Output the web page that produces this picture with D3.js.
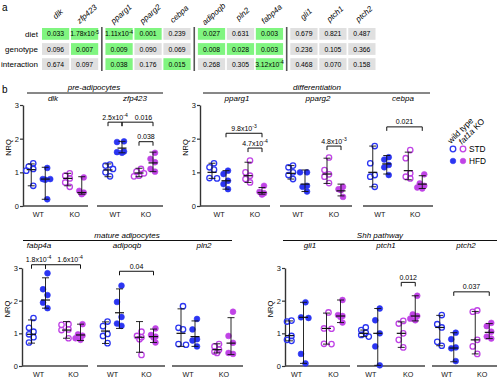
<!DOCTYPE html>
<html><head><meta charset="utf-8">
<script src="https://cdn.jsdelivr.net/npm/d3@7"></script>
<style>body{margin:0;background:#fff} svg{font-family:"Liberation Sans",Arial,sans-serif}</style>
</head><body><svg id="c" width="500" height="380"></svg>
<script>
// ---------- panel a: two-way ANOVA p-values ----------
const tableGenes = ["dlk","zfp423","pparg1","pparg2","cebpa","adipoqb","pln2","fabp4a","gli1","ptch1","ptch2"];
const tableGroups = [0,0,1,1,1,2,2,2,3,3,3];
const tableRows = ["diet","genotype","interaction"];
const pDiet = ["0.033","1.78x10^-5","1.11x10^-4","0.001","0.239","0.027","0.631","0.003","0.679","0.821","0.487"];
const pGenotype = ["0.096","0.007","0.009","0.090","0.069","0.008","0.028","0.003","0.236","0.105","0.366"];
const pInteraction = ["0.674","0.097","0.038","0.176","0.015","0.268","0.305","3.12x10^-4","0.468","0.070","0.158"];

// ---------- panel b: NRQ values; groups = WT STD, WT HFD, KO STD, KO HFD ----------
const groups = ["WT STD","WT HFD","KO STD","KO HFD"];
const genotypes = ["WT","KO"];
const diets = ["STD","HFD"];
const yTicks = [0,1,2,3];

const dlkPts = [[1.27,1.17,1.1,1.05,0.6],[1.13,0.8,0.8,0.78,0.2],[0.97,0.9,0.82,0.7,0.57],[0.85,0.45,0.4,0.37,0.35]];
const dlkBar = [[0.6,1.08,1.25],[0.2,0.8,1.15],[0.6,0.82,0.97],[0.35,0.4,0.87]];
const zfp423Pts = [[1.23,1.2,1.1,1.0,0.88],[1.92,1.9,1.62,1.6,1.58],[1.1,1.02,0.97,0.9,0.88],[1.58,1.4,1.3,1.1,1.02]];
const zfp423Bar = [[0.87,1.07,1.25],[1.58,1.72,1.92],[0.87,0.98,1.12],[1.02,1.28,1.6]];
const pparg1Pts = [[1.27,1.15,1.08,0.83,0.82],[1.05,0.95,0.75,0.65,0.5],[1.35,1.0,0.9,0.8,0.7],[0.6,0.42,0.38,0.36,0.34]];
const pparg1Bar = [[0.82,1.0,1.27],[0.5,0.75,1.05],[0.7,0.9,1.3],[0.35,0.4,0.55]];
const pparg2Pts = [[1.2,1.15,1.0,0.92,0.8],[1.0,1.0,0.6,0.57,0.43],[1.44,1.07,0.94,0.87,0.68],[0.57,0.5,0.5,0.47,0.27]];
const pparg2Bar = [[0.8,0.97,1.2],[0.43,0.65,1.07],[0.67,0.95,1.42],[0.3,0.45,0.65]];
const cebpaPts = [[1.78,1.27,0.92,0.87,0.57],[1.45,1.38,1.22,1.15,0.92],[1.66,1.42,0.97,0.87,0.82],[0.94,0.67,0.6,0.55,0.52]];
const cebpaBar = [[0.57,1.0,1.78],[0.95,1.25,1.5],[0.78,1.05,1.6],[0.52,0.65,0.9]];
const fabp4aPts = [[1.47,1.17,1.05,0.97,0.88,0.72],[2.84,2.35,2.17,1.94,1.77],[1.28,1.26,1.12,1.1,0.85],[1.28,0.97,0.93,0.85,0.8]];
const fabp4aBar = [[0.7,0.97,1.41],[1.77,2.02,2.7],[0.85,1.1,1.36],[0.78,0.95,1.28]];
const adipoqbPts = [[1.36,1.22,0.98,0.92,0.7],[2.46,1.96,1.5,1.3,1.23],[1.05,0.92,0.88,0.82,0.34],[1.15,0.95,0.9,0.87,0.72]];
const adipoqbBar = [[0.69,1.07,1.35],[1.15,1.63,2.36],[0.42,0.88,1.36],[0.72,0.9,1.13]];
const pln2Pts = [[1.83,1.17,1.12,0.67,0.65],[1.44,1.12,0.82,0.78,0.6],[0.67,0.6,0.5,0.44,0.4],[1.66,0.92,0.71,0.4,0.37]];
const pln2Bar = [[0.6,1.0,1.75],[0.6,0.9,1.38],[0.4,0.5,0.68],[0.35,0.7,1.48]];
const gli1Pts = [[1.39,1.36,0.92,0.8,0.77],[1.95,1.49,1.47,0.37,0.08],[1.64,1.15,1.14,0.68,0.67],[2.02,1.56,1.53,1.5,1.33]];
const gli1Bar = [[0.77,0.93,1.38],[0.08,1.49,1.95],[0.67,1.15,1.62],[1.33,1.53,2.02]];
const ptch1Pts = [[1.18,1.1,1.02,0.95,0.9],[1.76,1.4,1.0,0.6,0.02],[1.38,1.3,1.0,0.8,0.57],[2.15,1.58,1.53,1.45,1.4]];
const ptch1Bar = [[0.9,1.0,1.1],[0.02,1.0,1.76],[0.57,1.0,1.35],[1.38,1.53,2.15]];
const ptch2Pts = [[1.56,1.28,1.18,0.74,0.62],[1.02,0.82,0.57,0.54,0.15],[1.7,1.66,0.8,0.6,0.37],[1.32,1.22,1.05,0.9,0.84]];
const ptch2Bar = [[0.62,1.18,1.55],[0.13,0.55,1.02],[0.37,0.8,1.67],[0.84,1.03,1.3]];

// significance brackets: gene, from group, to group, level (NRQ), label
const brackets = [
  ["zfp423",0,1,2.49,"2.5x10^-4"],["zfp423",1,3,2.49,"0.016"],["zfp423",2,3,1.91,"0.038"],
  ["pparg1",1,3,2.16,"9.8x10^-3"],["pparg1",2,3,1.72,"4.7x10^-4"],
  ["pparg2",2,3,1.78,"4.8x10^-3"],["cebpa",1,3,2.35,"0.021"],
  ["fabp4a",0,1,3.1,"1.8x10^-4"],["fabp4a",1,3,3.1,"1.6x10^-4"],
  ["adipoqb",1,3,2.9,"0.04"],["ptch1",2,3,2.56,"0.012"],["ptch2",1,3,2.27,"0.037"]
];

// ---------- layout & style ----------
const blue = "#2b35f2", mag = "#c043e6", green = "#80f580", grey = "#e0e0e0", ink = "#111";
const panels = [
 {gene:"dlk",    pts:dlkPts,    bar:dlkBar,    row:0, band:[20,93],   line:[23,88],  axis:true, lx:53},
 {gene:"zfp423", pts:zfp423Pts, bar:zfp423Bar, row:0, band:[99.5,161.5], line:[97,163], lx:135},
 {gene:"pparg1", pts:pparg1Pts, bar:pparg1Bar, row:0, band:[201,273], line:[200,270], axis:true, lx:237},
 {gene:"pparg2", pts:pparg2Pts, bar:pparg2Bar, row:0, band:[280,352], line:[280,352], lx:318},
 {gene:"cebpa",  pts:cebpaPts,  bar:cebpaBar,  row:0, band:[362,433], line:[363,433], lx:403},
 {gene:"fabp4a", pts:fabp4aPts, bar:fabp4aBar, row:1, band:[21,91],   line:[22,88],  axis:true, lx:39},
 {gene:"adipoqb",pts:adipoqbPts,bar:adipoqbBar,row:1, band:[95.5,163.5], line:[97,165], lx:127},
 {gene:"pln2",   pts:pln2Pts,   bar:pln2Bar,   row:1, band:[170,242], line:[172,243], lx:204},
 {gene:"gli1",   pts:gli1Pts,   bar:gli1Bar,   row:1, band:[278,352], line:[285,350], axis:true, lx:310},
 {gene:"ptch1",  pts:ptch1Pts,  bar:ptch1Bar,  row:1, band:[352,427], line:[357,425], lx:386},
 {gene:"ptch2",  pts:ptch2Pts,  bar:ptch2Bar,  row:1, band:[429,500], line:[432,497], lx:466}
];
const headers = [
 {text:"pre-adipocytes", row:0, x0:27, x1:163, tx:94},
 {text:"differentiation", row:0, x0:203, x1:430, tx:317},
 {text:"mature adipocytes", row:1, x0:23, x1:232, tx:127},
 {text:"Shh pathway", row:1, x0:283, x1:497, tx:380}
];
const rowY = [d3.scaleLinear().domain([0,3]).range([206,105]), d3.scaleLinear().domain([0,3]).range([366,268])];
const headerLineY = [93, 240.5], geneLabelY = [100.5, 248], xLabelY = [217, 377];
const labelShift = {"zfp423|0.016": 6, "fabp4a|1.6x10^-4": 7};

const svg = d3.select("#c");

function supText(sel, s, size) {
  const m = s.match(/^(.*)\^(.*)$/);
  if (!m) { sel.text(s); return; }
  sel.append("tspan").text(m[1]);
  sel.append("tspan").attr("font-size", size*0.72).attr("dy", -size*0.42).text(m[2]);
}
const pNum = s => { const m = s.match(/^(.*)x10\^(.*)$/); return m ? +m[1]*Math.pow(10,+m[2]) : +s; };

// ---------- panel a ----------
svg.append("text").attr("x",2).attr("y",11).attr("font-size",10).text("a");
const colX = d3.scaleBand().domain(tableGenes).range([42,359]).paddingInner(0.06);
const gap = 5.5;
const cx = i => colX(tableGenes[i]) + tableGroups[i]*gap;
const rowB = d3.scaleBand().domain(tableRows).range([28,70]).paddingInner(0.22);
const tableVals = [pDiet, pGenotype, pInteraction];
tableRows.forEach((r, ri) => {
  svg.append("text").attr("x",38).attr("y",rowB(r)+rowB.bandwidth()/2+2.8)
    .attr("text-anchor","end").attr("font-size",8).text(r);
  tableVals[ri].forEach((v, i) => {
    svg.append("rect").attr("x",cx(i)).attr("y",rowB(r)).attr("width",colX.bandwidth()).attr("height",rowB.bandwidth())
      .attr("fill", pNum(v) < 0.05 ? green : grey);
    const t = svg.append("text").attr("x",cx(i)+colX.bandwidth()/2).attr("y",rowB(r)+rowB.bandwidth()/2+2.5)
      .attr("text-anchor","middle").attr("font-size",6.8);
    supText(t, v, 6.8);
  });
});
tableGenes.forEach((g, i) => {
  const x = cx(i) + colX.bandwidth()/2 + 4;
  svg.append("text").attr("transform",`translate(${x},16) rotate(-42)`).attr("text-anchor","middle")
    .attr("font-size",8).attr("font-style","italic").text(g);
});
[1,4,7].forEach(i => {
  const x = (cx(i)+colX.bandwidth()+cx(i+1))/2;
  svg.append("line").attr("x1",x).attr("x2",x).attr("y1",27).attr("y2",71).attr("stroke","#555").attr("stroke-width",1.6);
});

// ---------- panel b ----------
svg.append("text").attr("x",2).attr("y",92.5).attr("font-size",10).text("b");
headers.forEach(h => {
  svg.append("line").attr("x1",h.x0).attr("x2",h.x1).attr("y1",headerLineY[h.row]).attr("y2",headerLineY[h.row]).attr("stroke",ink).attr("stroke-width",1);
  svg.append("text").attr("x",h.tx).attr("y",headerLineY[h.row]-3).attr("text-anchor","middle")
    .attr("font-size",8).attr("font-style","italic").text(h.text);
});

const panelScales = {};
panels.forEach(p => {
  const y = rowY[p.row];
  const outer = d3.scaleBand().domain(genotypes).range(p.band);
  const inner = d3.scalePoint().domain(diets).range([-7,7]);
  const gx = gi => outer(genotypes[Math.floor(gi/2)]) + outer.bandwidth()/2 + inner(diets[gi%2]);
  panelScales[p.gene] = {gx, y};
  const g = svg.append("g");
  if (p.axis) {
    const ax = g.append("g").attr("transform",`translate(${p.line[0]},0)`)
      .call(d3.axisLeft(y).tickValues(yTicks).tickFormat(d3.format("d")).tickSize(3).tickSizeOuter(0));
    ax.select(".domain").attr("stroke","#333").attr("stroke-width",1.4);
    ax.selectAll(".tick line").attr("stroke","#333").attr("stroke-width",1.2);
    ax.selectAll(".tick text").attr("font-size",7.5).attr("font-family",'"Liberation Sans",Arial,sans-serif').attr("fill",ink).attr("x",-4);
    g.append("text").attr("transform",`translate(${p.line[0]-12},${(y(0)+y(3))/2 - 8}) rotate(-90)`)
      .attr("text-anchor","middle").attr("font-size",7.5).text("NRQ");
  }
  g.append("line").attr("x1",p.line[0]).attr("x2",p.line[1]).attr("y1",y(0)).attr("y2",y(0))
    .attr("stroke","#444").attr("stroke-width",1.6);
  const xa = g.append("g").attr("transform",`translate(0,${xLabelY[p.row]-8})`)
    .call(d3.axisBottom(outer).tickSize(0));
  xa.select(".domain").remove();
  xa.selectAll(".tick text").attr("font-size",7.2).attr("font-family",'"Liberation Sans",Arial,sans-serif').attr("fill",ink);
  g.append("text").attr("x",p.lx).attr("y",geneLabelY[p.row]).attr("text-anchor","middle")
    .attr("font-size",8).attr("font-style","italic").text(p.gene);
  // points (compact beeswarm offsets)
  p.pts.forEach((vals, gi) => {
    const col = gi < 2 ? blue : mag, filled = gi % 2 === 1;
    const placed = [];
    vals.slice().sort((a,b)=>b-a).forEach((v, k) => {
      const py = y(v);
      const cands = k % 2 ? [-2.5,2.5,0,-5,5] : [2,-2,0,5,-5];
      let off = cands.find(o => placed.every(q => Math.hypot(q[0]-o, q[1]-py) >= 4.6));
      if (off === undefined) off = 0;
      placed.push([off, py]);
      g.append("circle").attr("cx",gx(gi)+off).attr("cy",py).attr("r",filled?2.9:2.7)
        .attr("fill",filled?col:"none").attr("stroke",col).attr("stroke-width",filled?0.6:1.3);
    });
  });
  p.bar.forEach((b, gi) => {
    const x = gx(gi);
    g.append("line").attr("x1",x).attr("x2",x).attr("y1",y(b[0])).attr("y2",y(b[2])).attr("stroke",ink).attr("stroke-width",0.9);
    [[b[0],3.5,0.9],[b[2],3.5,0.9],[b[1],4.5,1.2]].forEach(([v,w,sw]) => {
      g.append("line").attr("x1",x-w).attr("x2",x+w).attr("y1",y(v)).attr("y2",y(v)).attr("stroke",ink).attr("stroke-width",sw);
    });
  });
});

brackets.forEach(([gene,a,b,lvl,lab]) => {
  const s = panelScales[gene];
  const x1 = s.gx(a), x2 = s.gx(b), yy = s.y(lvl);
  svg.append("path").attr("d",`M${x1},${yy+4}V${yy}H${x2}V${yy+4}`).attr("fill","none").attr("stroke",ink).attr("stroke-width",1);
  const t = svg.append("text").attr("x",(x1+x2)/2 + (labelShift[gene+"|"+lab]||0)).attr("y",yy-2.5)
    .attr("text-anchor","middle").attr("font-size",7);
  supText(t, lab, 7);
});

// legend
svg.append("text").attr("transform","translate(451,144) rotate(-45)").attr("font-size",8.3).text("wild type");
const lt = svg.append("text").attr("transform","translate(462,145) rotate(-45)").attr("font-size",8.3);
lt.append("tspan").attr("font-style","italic").text("fat1a");
lt.append("tspan").text(" KO");
const legY = d3.scalePoint().domain(diets).range([149,161]);
diets.forEach((d, di) => {
  [blue, mag].forEach((c, ci) => {
    svg.append("circle").attr("cx",453+ci*10).attr("cy",legY(d)).attr("r",2.8)
      .attr("fill", di ? c : "none").attr("stroke",c).attr("stroke-width", di?0.6:1.3);
  });
  svg.append("text").attr("x",469).attr("y",legY(d)+3).attr("font-size",8.3).text(d);
});
</script></body></html>
